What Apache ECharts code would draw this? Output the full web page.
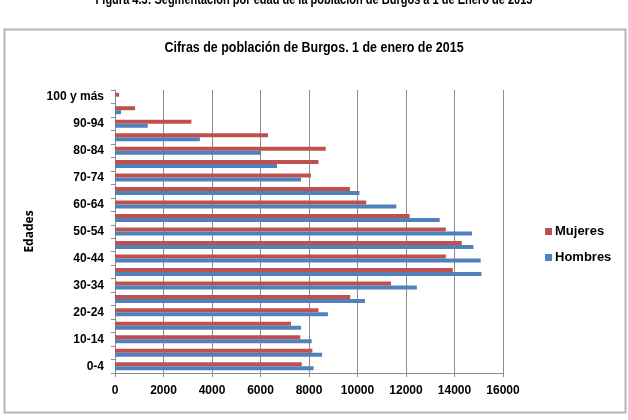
<!DOCTYPE html>
<html>
<head>
<meta charset="utf-8">
<script src="https://cdn.jsdelivr.net/npm/echarts@6/dist/echarts.min.js"></script>
<style>
  html, body { margin: 0; padding: 0; background: #fff; }
  #chart { width: 628px; height: 420px; }
</style>
</head>
<body>
<div id="chart"></div>
<script>
// age groups, bottom to top
const edades = ['0-4', '5-9', '10-14', '15-19', '20-24', '25-29', '30-34', '35-39', '40-44', '45-49',
  '50-54', '55-59', '60-64', '65-69', '70-74', '75-79', '80-84', '85-89', '90-94', '95-99', '100 y más'];
const hombres = [8190, 8540, 8110, 7670, 8780, 10310, 12450, 15110, 15080, 14780,
  14720, 13390, 11600, 10080, 7670, 6680, 6020, 3500, 1350, 250, 30];
const mujeres = [7700, 8140, 7640, 7260, 8390, 9700, 11380, 13930, 13640, 14300,
  13640, 12150, 10360, 9690, 8080, 8390, 8690, 6310, 3150, 830, 170];
const xTicks = [0, 2000, 4000, 6000, 8000, 10000, 12000, 14000, 16000];

const font = '"Liberation Sans", Arial, sans-serif';

const chart = echarts.init(document.getElementById('chart'));
chart.setOption({
  animation: false,
  graphic: [
    {
      type: 'rect', left: 2, top: 27,
      shape: { width: 621, height: 383 },
      style: { fill: 'none', stroke: '#b4b4b4', lineWidth: 2 },
      silent: true
    },
    {
      // page caption, cut by the top edge
      type: 'text', x: 314, y: 0, scaleX: 0.735,
      style: {
        text: 'Figura 4.3: Segmentación por edad de la población de Burgos a 1 de Enero de 2015',
        x: 0, y: 0, textAlign: 'center', textVerticalAlign: 'middle',
        font: 'bold 15px ' + font, fill: '#000'
      }
    },
    {
      type: 'text', x: 314, y: 48, scaleX: 0.89,
      style: {
        text: 'Cifras de población de Burgos. 1 de enero de 2015',
        x: 0, y: 0, textAlign: 'center', textVerticalAlign: 'middle',
        font: 'bold 14px ' + font, fill: '#000'
      }
    }
  ],
  legend: {
    orient: 'vertical', left: 540, top: 220,
    data: ['Mujeres', 'Hombres'],
    icon: 'rect', itemWidth: 7, itemHeight: 7, itemGap: 13,
    textStyle: { fontFamily: font, fontSize: 13, fontWeight: 'bold', color: '#000', padding: [0, 0, 0, -2] }
  },
  grid: { left: 115, right: 125, top: 90, bottom: 47 },
  xAxis: {
    type: 'value', min: xTicks[0], max: xTicks[xTicks.length - 1], interval: 2000,
    axisLine: { show: true, lineStyle: { color: '#8c8c8c' } },
    axisTick: { show: true, length: 4, lineStyle: { color: '#8c8c8c' } },
    splitLine: { lineStyle: { color: '#8c8c8c' } },
    axisLabel: {
      fontFamily: font, fontSize: 12, fontWeight: 'bold', color: '#000', margin: 12,
      formatter: v => String(v)
    }
  },
  yAxis: {
    type: 'category', data: edades,
    name: 'Edades', nameLocation: 'middle', nameGap: 68, nameRotate: 90,
    nameTextStyle: { fontFamily: '"Open Sans", sans-serif', fontSize: 12, fontWeight: 'bold', color: '#000' },
    axisLine: { lineStyle: { color: '#8c8c8c' } },
    axisTick: { show: true, length: 4, interval: 0, lineStyle: { color: '#8c8c8c' } },
    axisLabel: { interval: 1, fontFamily: font, fontSize: 12, fontWeight: 'bold', color: '#000', margin: 11 }
  },
  series: [
    {
      name: 'Mujeres', type: 'bar', data: mujeres,
      barWidth: 4, barGap: '0%',
      itemStyle: { color: '#c0504d' }
    },
    {
      name: 'Hombres', type: 'bar', data: hombres,
      barWidth: 4, barGap: '0%',
      itemStyle: { color: '#4f81bd' }
    }
  ]
});
</script>
</body>
</html>
